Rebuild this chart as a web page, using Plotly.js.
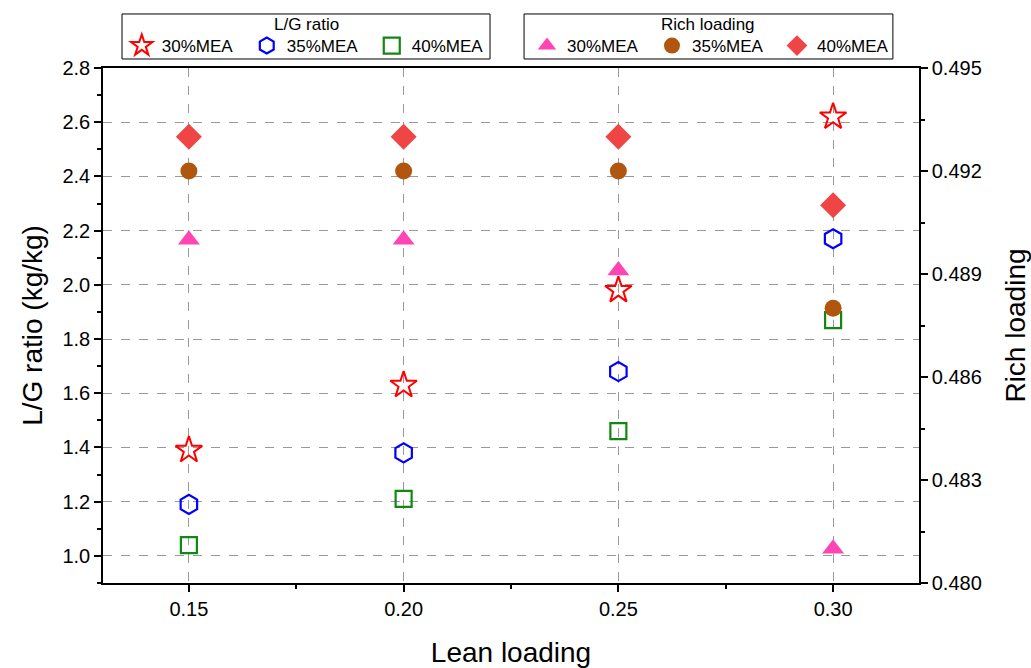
<!DOCTYPE html>
<html>
<head>
<meta charset="utf-8">
<script src="https://cdn.plot.ly/plotly-3.0.1.min.js"></script>
<style>html,body{margin:0;padding:0;background:#fff;}#chart{width:1031px;height:668px;}</style>
</head>
<body>
<div id="chart"></div>
<script>
// Data
var leanLoading = [0.15, 0.20, 0.25, 0.30];
var lg30 = [1.39, 1.63, 1.98, 2.62];
var lg35 = [1.19, 1.38, 1.68, 2.17];
var lg40 = [1.04, 1.21, 1.46, 1.87];
var rich30 = [0.4900, 0.4900, 0.4891, 0.4810];
var rich35 = [0.4920, 0.4920, 0.4920, 0.4880];
var rich40 = [0.4930, 0.4930, 0.4930, 0.4910];
var seriesNames = ['30%MEA', '35%MEA', '40%MEA'];
var legendTitles = ['L/G ratio', 'Rich loading'];

var F = 'Liberation Sans, Arial, sans-serif';

var traces = [
  {x: leanLoading, y: lg30, name: seriesNames[0], type: 'scatter', mode: 'markers', legend: 'legend',
   marker: {symbol: 'star-open', size: 20, color: '#ff0000', line: {color: '#ff0000', width: 2}}},
  {x: leanLoading, y: lg35, name: seriesNames[1], type: 'scatter', mode: 'markers', legend: 'legend',
   marker: {symbol: 'hexagon-open', size: 19, color: '#0000ff', line: {color: '#0000ff', width: 2.2}}},
  {x: leanLoading, y: lg40, name: seriesNames[2], type: 'scatter', mode: 'markers', legend: 'legend',
   marker: {symbol: 'square-open', size: 16, color: '#118811', line: {color: '#118811', width: 2.2}}},
  {x: leanLoading, y: rich30, name: seriesNames[0], type: 'scatter', mode: 'markers', yaxis: 'y2', legend: 'legend2',
   marker: {symbol: 'triangle-up', size: 19, color: '#ff44b4'}},
  {x: leanLoading, y: rich35, name: seriesNames[1], type: 'scatter', mode: 'markers', yaxis: 'y2', legend: 'legend2',
   marker: {symbol: 'circle', size: 17, color: '#b0560f'}},
  {x: leanLoading, y: rich40, name: seriesNames[2], type: 'scatter', mode: 'markers', yaxis: 'y2', legend: 'legend2',
   marker: {symbol: 'diamond', size: 20, color: '#f04545'}}
];

var gridStyle = {showgrid: true, gridcolor: '#999999', griddash: 'dash', gridwidth: 1};

var legendCommon = {
  orientation: 'h', bgcolor: 'rgba(0,0,0,0)', borderwidth: 0,
  font: {family: F, size: 17}, itemwidth: 30, entrywidth: 80,
  yanchor: 'middle', y: 1.0427, xanchor: 'left'
};

var layout = {
  width: 1031, height: 668,
  paper_bgcolor: '#ffffff', plot_bgcolor: '#ffffff',
  margin: {l: 103, r: 112, t: 68, b: 85},
  font: {family: F, size: 20, color: '#000'},
  showlegend: true,
  xaxis: Object.assign({
    range: [0.13, 0.32], tick0: 0.15, dtick: 0.05, tickformat: '.2f',
    showline: true, linecolor: '#000', linewidth: 1.5, mirror: true,
    ticks: 'outside', ticklen: 7, tickwidth: 1.5, tickcolor: '#000',
    minor: {dtick: 0.025, ticks: 'outside', ticklen: 4, tickwidth: 1.5, tickcolor: '#000', showgrid: false},
    zeroline: false,
    tickfont: {family: F, size: 20},
    title: {text: 'Lean loading', font: {family: F, size: 28}, standoff: 26}
  }, gridStyle),
  yaxis: Object.assign({
    range: [0.9, 2.8], tick0: 1.0, dtick: 0.2, tickformat: '.1f',
    showline: true, linecolor: '#000', linewidth: 1.5, mirror: false,
    ticks: 'outside', ticklen: 7, tickwidth: 1.5, tickcolor: '#000',
    minor: {dtick: 0.1, ticks: 'outside', ticklen: 4, tickwidth: 1.5, tickcolor: '#000', showgrid: false},
    zeroline: false,
    tickfont: {family: F, size: 20},
    title: {text: 'L/G ratio (kg/kg)', font: {family: F, size: 28}, standoff: 12}
  }, gridStyle),
  yaxis2: {
    overlaying: 'y', side: 'right',
    range: [0.480, 0.495], tick0: 0.480, dtick: 0.003, tickformat: '.3f',
    showline: true, linecolor: '#000', linewidth: 1.5,
    ticks: 'outside', ticklen: 7, tickwidth: 1.5, tickcolor: '#000',
    minor: {dtick: 0.0015, ticks: 'outside', ticklen: 4, tickwidth: 1.5, tickcolor: '#000', showgrid: false},
    showgrid: false, zeroline: false,
    tickfont: {family: F, size: 20},
    title: {text: 'Rich loading', font: {family: F, size: 28}, standoff: 28}
  },
  legend: Object.assign({x: 0.023}, legendCommon),
  legend2: Object.assign({x: 0.5196}, legendCommon),
  shapes: [
    {type: 'rect', xref: 'paper', yref: 'paper', x0: 0.0233, x1: 0.4743, y0: 1.0175, y1: 1.1049,
     line: {color: '#000', width: 1}, fillcolor: 'rgba(0,0,0,0)'},
    {type: 'rect', xref: 'paper', yref: 'paper', x0: 0.516, x1: 0.968, y0: 1.0175, y1: 1.1049,
     line: {color: '#000', width: 1}, fillcolor: 'rgba(0,0,0,0)'}
  ],
  annotations: [
    {text: legendTitles[0], xref: 'paper', yref: 'paper', x: 0.2488, y: 1.0835, xanchor: 'center', yanchor: 'middle',
     showarrow: false, font: {family: F, size: 17}},
    {text: legendTitles[1], xref: 'paper', yref: 'paper', x: 0.742, y: 1.0835, xanchor: 'center', yanchor: 'middle',
     showarrow: false, font: {family: F, size: 17}}
  ]
};

Plotly.newPlot('chart', traces, layout, {displayModeBar: false, responsive: false});
</script>
</body>
</html>
